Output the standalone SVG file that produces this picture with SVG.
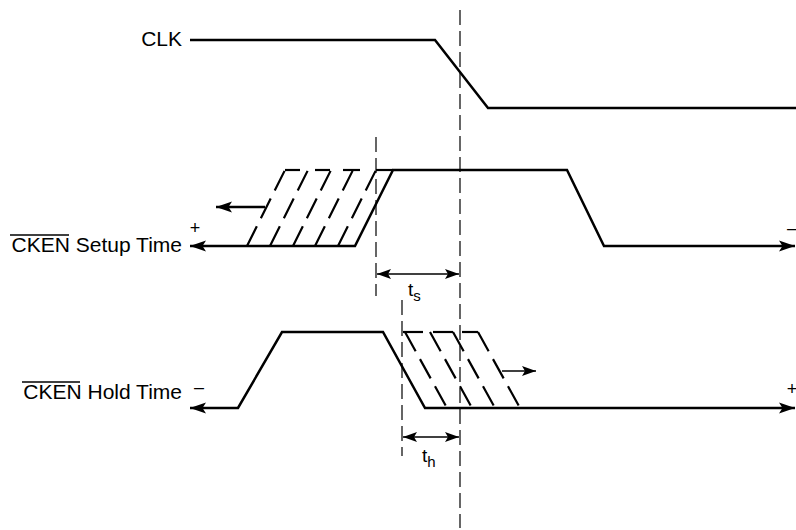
<svg xmlns="http://www.w3.org/2000/svg" width="796" height="530" viewBox="0 0 796 530">
<style>
.wave{fill:none;stroke:#000;stroke-width:2.5;stroke-linejoin:miter}
.slant{fill:none;stroke:#000;stroke-width:2.2;stroke-dasharray:22 9}
.dash{fill:none;stroke:#000;stroke-width:2.2}
.guide{fill:none;stroke:#000;stroke-width:1.2;stroke-dasharray:15 6}
.dim{fill:none;stroke:#000;stroke-width:1.3}
.lbl{font-family:"Liberation Sans",Arial,sans-serif;font-size:21px;fill:#000}
.pm{font-family:"Liberation Sans",Arial,sans-serif;font-size:18px;fill:#000}
.t{font-family:"Liberation Sans",Arial,sans-serif;font-size:19px;fill:#000}
.sub{font-size:15px}
.ovl{stroke:#000;stroke-width:1.3}
</style>
<defs>
<marker id="ah" markerUnits="userSpaceOnUse" viewBox="0 -6 17 12" refX="16" refY="0" markerWidth="17" markerHeight="12" orient="auto-start-reverse">
<path d="M16,0 L0,-5.5 L3.5,0 L0,5.5 Z" fill="#000"/>
</marker>
<marker id="dh" markerUnits="userSpaceOnUse" viewBox="0 -5 15 10" refX="14" refY="0" markerWidth="15" markerHeight="10" orient="auto-start-reverse">
<path d="M14,0 L0,-5 L3,0 L0,5 Z" fill="#000"/>
</marker>
</defs>

<g id="clk">
<text class="lbl" x="182" y="46" text-anchor="end">CLK</text>
<path class="wave" d="M190,40 L435,40 L488,108 L796,108"/>
</g>

<g id="setup">
<text class="lbl" x="182" y="252" text-anchor="end">CKEN Setup Time</text>
<line class="ovl" x1="10" y1="235" x2="69" y2="235"/>
<text class="pm" x="195" y="234" text-anchor="middle">+</text>
<text class="pm" x="792" y="234" text-anchor="middle">–</text>
<path class="wave" d="M190,246 L355,246 L393,170 L567,170 L604,246 L795,246" marker-start="url(#ah)" marker-end="url(#ah)"/>
<line class="slant" x1="247" y1="246" x2="285" y2="170"/>
<line class="slant" x1="270" y1="246" x2="308" y2="170"/>
<line class="slant" x1="293" y1="246" x2="331" y2="170"/>
<line class="slant" x1="315" y1="246" x2="353" y2="170"/>
<line class="slant" x1="338" y1="246" x2="376" y2="170"/>
<line class="dash" x1="285" y1="170" x2="300" y2="170"/>
<line class="dash" x1="315" y1="170" x2="330" y2="170"/>
<line class="dash" x1="343" y1="170" x2="360" y2="170"/>
<line class="dash" x1="376" y1="170" x2="393" y2="170"/>
<line class="wave" x1="265" y1="207" x2="216" y2="207" marker-end="url(#ah)"/>
</g>

<g id="hold">
<text class="lbl" x="182" y="399" text-anchor="end">CKEN Hold Time</text>
<line class="ovl" x1="22" y1="382" x2="80" y2="382"/>
<text class="pm" x="199" y="393" text-anchor="middle">–</text>
<text class="pm" x="792" y="395" text-anchor="middle">+</text>
<path class="wave" d="M190,408 L238,408 L282,332 L383,332 L425,408 L795,408" marker-start="url(#ah)" marker-end="url(#ah)"/>
<line class="slant" x1="405" y1="332" x2="447" y2="408"/>
<line class="slant" x1="430" y1="332" x2="472" y2="408"/>
<line class="slant" x1="453" y1="332" x2="495" y2="408"/>
<line class="slant" x1="478" y1="332" x2="520" y2="408"/>
<line class="dash" x1="403" y1="332" x2="423" y2="332"/>
<line class="dash" x1="433" y1="332" x2="453" y2="332"/>
<line class="dash" x1="462" y1="332" x2="478" y2="332"/>
<line class="dim" x1="502" y1="371" x2="536" y2="371" marker-end="url(#dh)"/>
</g>

<g id="connectors">
<line class="guide" x1="460" y1="10" x2="460" y2="528"/>
<line class="guide" x1="376" y1="137" x2="376" y2="296"/>
<line class="guide" x1="402" y1="300" x2="402" y2="456"/>
<line class="dim" x1="377" y1="274" x2="459" y2="274" marker-start="url(#dh)" marker-end="url(#dh)"/>
<line class="dim" x1="403" y1="437" x2="459" y2="437" marker-start="url(#dh)" marker-end="url(#dh)"/>
</g>

<g id="ts">
<text class="t" x="408" y="296">t<tspan class="sub" dy="5">s</tspan></text>
</g>
<g id="th">
<text class="t" x="422" y="462">t<tspan class="sub" dy="5">h</tspan></text>
</g>
</svg>
